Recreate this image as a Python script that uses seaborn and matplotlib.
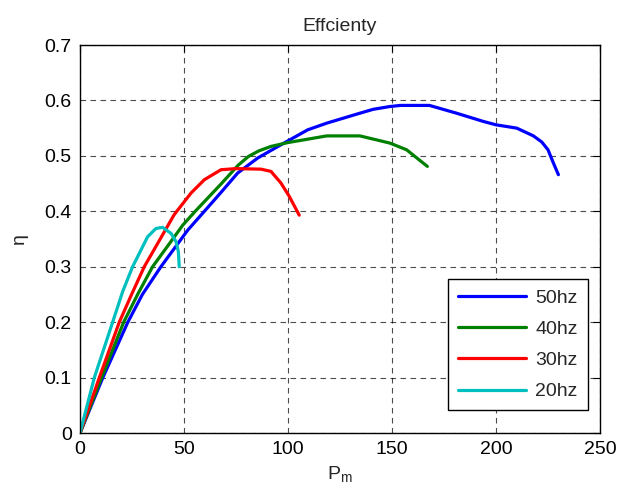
import pandas as pd
import matplotlib
matplotlib.use("Agg")
import matplotlib.pyplot as plt
import seaborn as sns

# values (P_m vs efficiency)
p_50 = [0, 11, 23, 30, 38.9, 51.8, 64.5, 68, 75.8, 85.4, 96.6, 109.5, 118.6, 134.6, 141, 149, 154,
        168, 181, 194, 200, 210, 218, 222, 225, 227.6, 230]
eta_50 = [0, 0.1, 0.2, 0.25, 0.3, 0.366, 0.42, 0.435, 0.469, 0.496, 0.52, 0.547, 0.559, 0.577, 0.584,
          0.589, 0.591, 0.591, 0.577, 0.562, 0.556, 0.55, 0.536, 0.525, 0.511, 0.487, 0.466]

p_40 = [0, 10.4, 21, 27.7, 34.9, 44.6, 49.4, 55.4, 68, 76, 81, 86, 91.8, 100, 107.8, 118.6, 134.6,
        149, 157, 162, 167]
eta_40 = [0, 0.1, 0.2, 0.25, 0.3, 0.35, 0.375, 0.4, 0.45, 0.483, 0.499, 0.509, 0.517, 0.524, 0.529,
          0.536, 0.536, 0.523, 0.511, 0.496, 0.481]

p_30 = [0, 9.3, 18.9, 24.8, 30.9, 45.3, 53.4, 59.8, 67.8, 75, 87, 91.8, 96.6, 100.6, 105.4]
eta_30 = [0, 0.1, 0.2, 0.25, 0.3, 0.394, 0.433, 0.457, 0.475, 0.477, 0.476, 0.472, 0.451, 0.427, 0.393]

p_20 = [0, 6.9, 15.7, 20.5, 25.3, 29.3, 32.5, 36.5, 39.7, 43.8, 46.2, 47.3, 47.7]
eta_20 = [0, 0.1, 0.2, 0.255, 0.3, 0.33, 0.354, 0.369, 0.371, 0.36, 0.345, 0.327, 0.3]

series = ["50hz", "40hz", "30hz", "20hz"]
colors = ["#0000ff", "#008000", "#ff0000", "#00bfbf"]

xticks = [0, 50, 100, 150, 200, 250]
yticks = [0, 0.1, 0.2, 0.3, 0.4, 0.5, 0.6, 0.7]
ytick_labels = ["0", "0.1", "0.2", "0.3", "0.4", "0.5", "0.6", "0.7"]

frames = []
for name, xs, ys in zip(series, [p_50, p_40, p_30, p_20], [eta_50, eta_40, eta_30, eta_20]):
    frames.append(pd.DataFrame({"P": xs, "eta": ys, "freq": name}))
df = pd.concat(frames, ignore_index=True)

sns.set_style("white")
plt.rcParams["font.family"] = ["Liberation Sans", "DejaVu Sans"]
plt.rcParams["mathtext.fontset"] = "custom"
plt.rcParams["mathtext.rm"] = "Liberation Sans"
plt.rcParams["mathtext.it"] = "Liberation Sans"

fig = plt.figure(figsize=(6.28, 4.99), dpi=100)
ax = fig.add_axes([80 / 628, 1 - 433 / 499, 520 / 628, 388 / 499])

sns.lineplot(data=df, x="P", y="eta", hue="freq", hue_order=series,
             palette=dict(zip(series, colors)), sort=False, estimator=None,
             linewidth=2.3, ax=ax)

ax.set_xlim(0, 250)
ax.set_ylim(0, 0.7)
ax.set_xticks(xticks)
ax.set_xticklabels([str(t) for t in xticks])
ax.set_yticks(yticks)
ax.set_yticklabels(ytick_labels)
ax.tick_params(direction="in", top=True, right=True, length=5, width=0.8,
               labelsize=14, pad=6, colors="black")
ax.grid(True, color="black", linestyle=(0, (5, 4)), linewidth=0.8, alpha=0.7)
for s in ax.spines.values():
    s.set_color("black")
    s.set_linewidth(1.0)

ax.set_title("Effcienty", fontsize=14, pad=10)
ax.set_xlabel("P$_\\mathregular{m}$", fontsize=14, labelpad=4)
ax.set_ylabel("η", fontsize=14, labelpad=12)

handles, labels = ax.get_legend_handles_labels()
leg = ax.legend(handles, labels, loc="lower right", bbox_to_anchor=(0.976, 0.059),
                borderaxespad=0, fontsize=14, frameon=True, fancybox=False,
                edgecolor="black", framealpha=1, handlelength=3.5,
                handletextpad=0.5, labelspacing=0.7, borderpad=0.5)
leg.get_frame().set_linewidth(1.0)

fig.savefig("out.png", dpi=100)
